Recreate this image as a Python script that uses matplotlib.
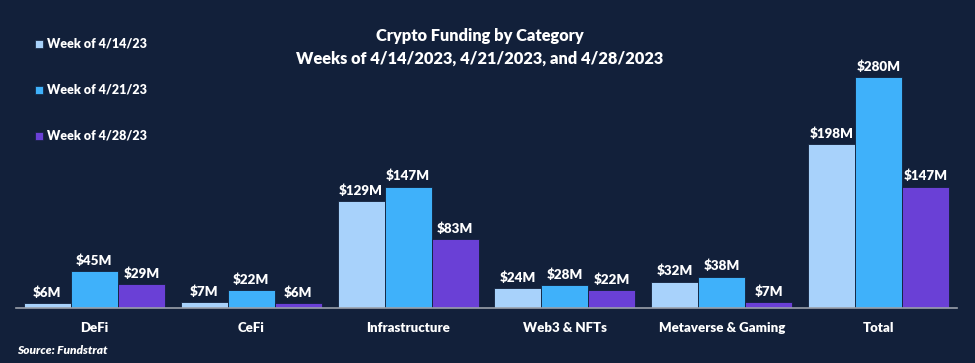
import matplotlib
matplotlib.use("Agg")
import matplotlib.pyplot as plt
import numpy as np

categories = ["DeFi", "CeFi", "Infrastructure", "Web3 & NFTs", "Metaverse & Gaming", "Total"]
series_names = ["Week of 4/14/23", "Week of 4/21/23", "Week of 4/28/23"]
week_0414 = [6, 7, 129, 24, 32, 198]
week_0421 = [45, 22, 147, 28, 38, 280]
week_0428 = [29, 6, 83, 22, 7, 147]
colors = ["#a8d2fb", "#3fb1fa", "#6a40d6"]
bg = "#12203a"

plt.rcParams['font.family'] = ['Lato', 'DejaVu Sans']
FW = "heavy"

W, H = 975, 363
fig = plt.figure(figsize=(W/100, H/100), dpi=100, facecolor=bg)
ax = fig.add_axes([16/W, (H-308)/H, (957-16)/W, (308-20)/H])
ax.set_facecolor(bg)

x = np.arange(len(categories))
bw = 0.3
series = [week_0414, week_0421, week_0428]
for i, (vals, c, name) in enumerate(zip(series, colors, series_names)):
    pos = x + (i-1)*bw
    ax.bar(pos, vals, bw, color=c, edgecolor=bg, linewidth=0.6, label=name)
    for p, v in zip(pos, vals):
        ax.text(p, v + 5, f"${v}M", ha="center", va="bottom", color="white",
                fontsize=9.6, fontweight=FW)

ax.set_xlim(-0.5, 5.5)
ax.set_ylim(0, 288/0.826)
for s in ["top", "right", "left"]:
    ax.spines[s].set_visible(False)
ax.spines["bottom"].set_color("#9aa0aa")
ax.spines["bottom"].set_linewidth(1.2)
ax.set_yticks([])
ax.set_xticks(x)
ax.set_xticklabels(categories, color="white", fontsize=9.5, fontweight=FW)
ax.tick_params(axis="x", length=0, pad=10)

fig.text(480/W, 1-36/H, "Crypto Funding by Category", ha="center", va="center",
         color="white", fontsize=11.8, fontweight=FW)
fig.text(480/W, 1-59/H, "Weeks of 4/14/2023, 4/21/2023, and 4/28/2023", ha="center", va="center",
         color="white", fontsize=11.8, fontweight=FW)

# legend
for i, (name, c) in enumerate(zip(series_names, colors)):
    yc = 44 + i*46
    fig.patches.append(plt.Rectangle((35/W, 1-(yc+4)/H), 8/W, 8/H, transform=fig.transFigure,
                                     facecolor=c, edgecolor=bg, linewidth=0.5))
    fig.text(47/W, 1-yc/H, name, ha="left", va="center", color="white",
             fontsize=9.0, fontweight=FW)

fig.text(17/W, 1-350/H, "Source: Fundstrat", ha="left", va="center", color="white",
         fontsize=8.6, fontweight=FW, style="italic")

fig.savefig("out.png", dpi=100, facecolor=bg)
